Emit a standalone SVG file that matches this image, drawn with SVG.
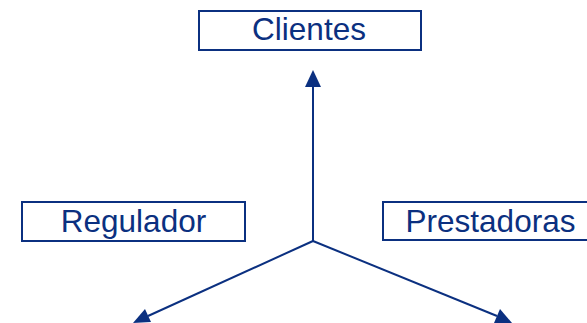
<svg xmlns="http://www.w3.org/2000/svg" width="587" height="323" viewBox="0 0 587 323">
  <style>
    .box { fill: #ffffff; stroke: #0b3080; stroke-width: 2; }
    .lbl { font-family: "Liberation Sans", Arial, sans-serif; font-size: 31.5px; fill: #0b3080; text-anchor: middle; }
    .edge { stroke: #0b3080; stroke-width: 2; fill: none; }
  </style>
  <rect width="587" height="323" fill="#ffffff"/>

  <g id="clientes">
    <rect class="box" x="199" y="11" width="222" height="39"/>
    <text class="lbl" x="309" y="40">Clientes</text>
  </g>
  <g id="regulador">
    <rect class="box" x="22" y="202" width="223" height="39"/>
    <text class="lbl" x="133.5" y="232">Regulador</text>
  </g>
  <g id="prestadoras">
    <rect class="box" x="383" y="202" width="210" height="38"/>
    <text class="lbl" x="490.5" y="232">Prestadoras</text>
  </g>

  <g id="connectors">
    <line class="edge" x1="313" y1="241" x2="313" y2="87"/>
    <path d="M313,70 L321,87 L305,87 z" fill="#0b3080"/>
    <line class="edge" x1="313" y1="241" x2="148" y2="316"/>
    <path d="M133,323 L145,309 L151,322 z" fill="#0b3080"/>
    <line class="edge" x1="313" y1="241" x2="497" y2="316"/>
    <path d="M512,323 L494,323 L500,309 z" fill="#0b3080"/>
  </g>
</svg>
